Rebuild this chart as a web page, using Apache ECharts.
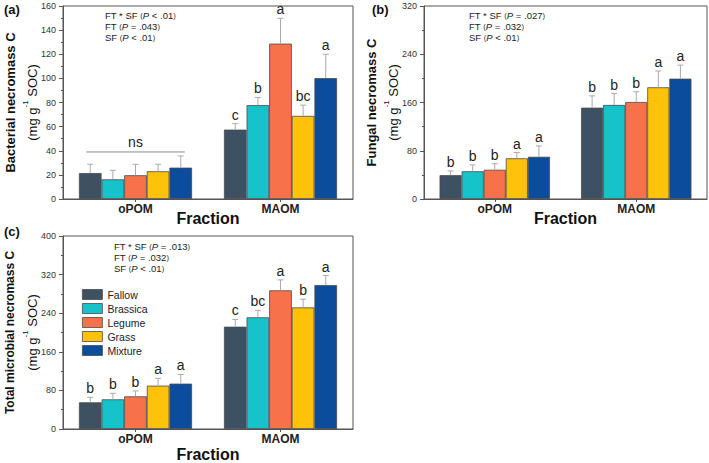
<!DOCTYPE html>
<html>
<head>
<meta charset="utf-8">
<script src="https://cdn.jsdelivr.net/npm/echarts@6/dist/echarts.min.js"></script>
<style>
html, body { margin: 0; padding: 0; background: #fff; }
#main { width: 709px; height: 463px; }
</style>
</head>
<body>
<div id="main"></div>
<script>
// categories
const fractions = ['oPOM', 'MAOM'];
const treatments = ['Fallow', 'Brassica', 'Legume', 'Grass', 'Mixture'];

// (a) bacterial necromass C, per treatment: [oPOM, MAOM]
const bacMean = [[21.5, 57.5], [16.3, 77.8], [19.7, 128.8], [23, 68.9], [26, 100.2]];
const bacErr = [[7.3, 5], [7.5, 6.4], [9.1, 21], [5.8, 8.9], [9.7, 19.8]];
const bacLetters = [['', 'c'], ['', 'b'], ['', 'a'], ['', 'bc'], ['', 'a']];
const bacNsLevel = 39;

// (b) fungal necromass C
const funMean = [[39.5, 151.4], [46, 155.9], [48.5, 160.8], [67.5, 185.2], [70, 199.5]];
const funErr = [[7, 19.6], [10.5, 19], [10, 17], [9.5, 27], [18, 22.5]];
const funLetters = [['b', 'b'], ['b', 'b'], ['b', 'b'], ['a', 'a'], ['a', 'a']];

// (c) total microbial necromass C
const totMean = [[55.3, 212], [61.5, 231.5], [67.7, 287.4], [89.8, 252], [94, 298.4]];
const totErr = [[10.3, 15.2], [12.5, 14.5], [11.1, 21.6], [15.2, 17], [19, 19.6]];
const totLetters = [['b', 'c'], ['b', 'bc'], ['b', 'a'], ['a', 'b'], ['a', 'a']];

// y axis ticks
const yMax = [160, 320, 400];
const yInterval = [20, 80, 80];

// statistics text
const statsA = [['FT * SF ', '<', '.01'], ['FT ', '=', '.043'], ['SF ', '<', '.01']];
const statsB = [['FT * SF ', '=', '.027'], ['FT ', '=', '.032'], ['SF ', '<', '.01']];
const statsC = [['FT * SF ', '=', '.013'], ['FT ', '=', '.032'], ['SF ', '<', '.01']];

const colors = ['#3e5163', '#17c3cb', '#f7714a', '#ffc20a', '#0b4d9c'];
const font = 'Liberation Sans, Arial, sans-serif';
const axisColor = '#555';

const chart = echarts.init(document.getElementById('main'), null, { renderer: 'svg' });

const grids = [
  { left: 63, top: 6, width: 290, height: 193 },
  { left: 424, top: 6, width: 283, height: 193 },
  { left: 63, top: 236, width: 290, height: 193 }
].map(g => Object.assign(g, { show: true, borderColor: axisColor, borderWidth: 1, backgroundColor: 'transparent' }));

function yName(title) {
  return '{b|' + title + '}\n{r|(mg g}{s|-1}{r| SOC)}';
}

function makeY(i, title, size) {
  return {
    type: 'value', gridIndex: i, min: 0, max: yMax[i], interval: yInterval[i],
    name: yName(title), nameLocation: 'middle', nameRotate: 90, nameGap: 20,
    nameMoveOverlap: false,
    nameTextStyle: {
      fontFamily: font, color: '#111',
      rich: {
        b: { fontSize: size, fontWeight: 'bold', lineHeight: 22, fontFamily: font, color: '#111' },
        r: { fontSize: 13, lineHeight: 22, fontFamily: font, color: '#111' },
        s: { fontSize: 8, lineHeight: 12, verticalAlign: 'top', fontFamily: font, color: '#111' }
      }
    },
    axisLine: { show: true, lineStyle: { color: axisColor } },
    axisTick: { show: true, inside: false, length: 4, lineStyle: { color: axisColor } },
    minorTick: { show: true, splitNumber: 2, length: 2, lineStyle: { color: axisColor } },
    axisLabel: { fontSize: 9, color: '#333', margin: 7, fontFamily: font },
    splitLine: { show: false }
  };
}

function makeX(i, gap) {
  return {
    type: 'category', gridIndex: i, data: fractions,
    name: 'Fraction', nameLocation: 'middle', nameGap: gap, nameMoveOverlap: false,
    nameTextStyle: { fontSize: 16, fontWeight: 'bold', color: '#111', fontFamily: font },
    axisLine: { show: true, lineStyle: { color: axisColor } },
    axisTick: { show: true, alignWithLabel: true, length: 3, lineStyle: { color: axisColor } },
    axisLabel: { fontSize: 12, fontWeight: 'bold', color: '#222', margin: 4, fontFamily: font }
  };
}

function barSeries(gi, mean) {
  return treatments.map((t, ti) => ({
    name: t, type: 'bar', xAxisIndex: gi, yAxisIndex: gi,
    data: mean[ti], barGap: '0%', barCategoryGap: '22%',
    itemStyle: { color: colors[ti], borderColor: '#4a4a4a', borderWidth: 0.8 }
  }));
}

function errorSeries(gi, mean, err, letters) {
  const data = [];
  treatments.forEach((t, ti) => fractions.forEach((f, ci) => data.push([ci, ti, mean[ti][ci], err[ti][ci]])));
  return {
    type: 'custom', xAxisIndex: gi, yAxisIndex: gi, z: 5, data: data,
    encode: { x: 0, y: 2 }, silent: true,
    renderItem: function (params, api) {
      const ci = api.value(0), ti = api.value(1), m = api.value(2), e = api.value(3);
      const band = api.size([1, 0])[0];
      const bw = band * 0.78 / 5;
      const p0 = api.coord([ci, m]);
      const p1 = api.coord([ci, m + e]);
      const x = p0[0] + (ti - 2) * bw;
      return {
        type: 'group', children: [
          { type: 'line', shape: { x1: x, y1: p0[1], x2: x, y2: p1[1] }, style: { stroke: '#aaa', lineWidth: 1 } },
          { type: 'line', shape: { x1: x - 3, y1: p1[1], x2: x + 3, y2: p1[1] }, style: { stroke: '#aaa', lineWidth: 1 } },
          { type: 'text', x: x, y: p1[1] - 2, style: { text: letters[ti][ci], textAlign: 'center', textVerticalAlign: 'bottom', fontSize: 14, fill: '#222', fontFamily: font } }
        ]
      };
    }
  };
}

// "ns" bracket over oPOM in (a)
const nsSeries = {
  type: 'custom', xAxisIndex: 0, yAxisIndex: 0, z: 5, silent: true,
  data: [[0, bacNsLevel]], encode: { x: 0, y: 1 },
  renderItem: function (params, api) {
    const p = api.coord([api.value(0), api.value(1)]);
    const half = api.size([1, 0])[0] * 0.34;
    return {
      type: 'group', children: [
        { type: 'line', shape: { x1: p[0] - half, y1: p[1], x2: p[0] + half, y2: p[1] }, style: { stroke: '#888', lineWidth: 1 } },
        { type: 'text', x: p[0], y: p[1] - 3, style: { text: 'ns', textAlign: 'center', textVerticalAlign: 'bottom', fontSize: 14, fill: '#222', fontFamily: font } }
      ]
    };
  }
};

function statsText(left, top, stats) {
  const text = stats.map(s => '{n|' + s[0] + '}{p|(}{i|P}{n| ' + s[1] + ' ' + s[2] + '}{p|)}').join('\n');
  return {
    type: 'text', left: left, top: top,
    style: {
      text: text, fill: '#222', fontFamily: font, fontSize: 9.5,
      rich: {
        n: { fontSize: 9.5, lineHeight: 11, fontFamily: font, fill: '#222' },
        i: { fontSize: 9.5, lineHeight: 11, fontStyle: 'italic', fontFamily: font, fill: '#222' },
        p: { fontSize: 7.5, lineHeight: 11, fontFamily: font, fill: '#222' }
      }
    }
  };
}

function panelLabel(left, top, text) {
  return { type: 'text', left: left, top: top, style: { text: text, fontSize: 13, fontWeight: 'bold', fill: '#111', fontFamily: font } };
}

const option = {
  animation: false,
  backgroundColor: '#fff',
  color: colors,
  grid: grids,
  xAxis: [makeX(0, 11), makeX(1, 11), makeX(2, 17)],
  yAxis: [
    makeY(0, 'Bacterial necromass C', 13),
    makeY(1, 'Fungal necromass C', 13),
    makeY(2, 'Total microbial necromass C', 12)
  ],
  legend: {
    data: treatments, orient: 'vertical', left: 77, top: 284,
    itemWidth: 20, itemHeight: 10, itemGap: 3, icon: 'rect',
    textStyle: { fontSize: 10.5, lineHeight: 10, color: '#222', fontFamily: font },
    itemStyle: { borderColor: '#4a4a4a', borderWidth: 0.8 }
  },
  graphic: [
    panelLabel(4, 3, '(a)'),
    panelLabel(372, 3, '(b)'),
    panelLabel(4, 225, '(c)'),
    statsText(105, 10, statsA),
    statsText(469, 10, statsB),
    statsText(114, 241, statsC)
  ],
  series: [].concat(
    barSeries(0, bacMean), barSeries(1, funMean), barSeries(2, totMean),
    [errorSeries(0, bacMean, bacErr, bacLetters), errorSeries(1, funMean, funErr, funLetters),
     errorSeries(2, totMean, totErr, totLetters), nsSeries]
  )
};

chart.setOption(option);
</script>
</body>
</html>
